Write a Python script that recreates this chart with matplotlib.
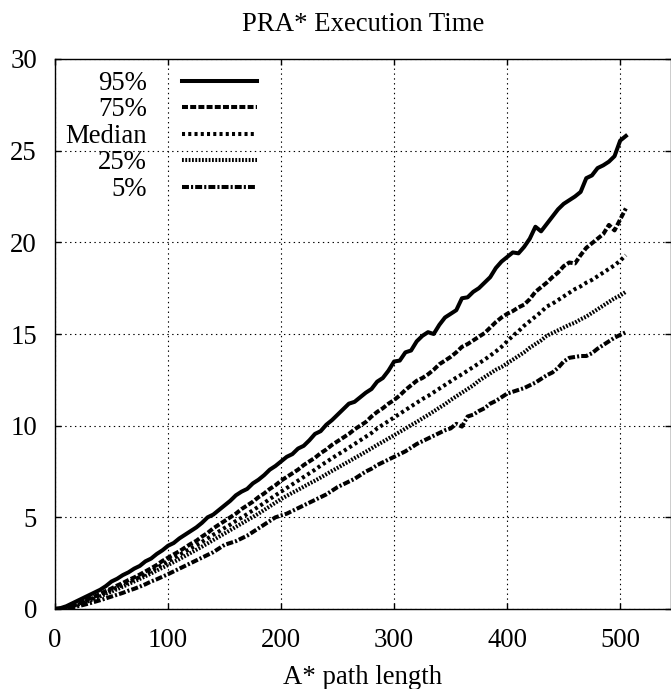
import matplotlib
matplotlib.use("Agg")
import matplotlib.pyplot as plt

plt.rcParams['font.family'] = ['Liberation Serif', 'DejaVu Serif']
plt.rcParams['lines.scale_dashes'] = False

# A* path length
path_len = list(range(0, 510, 5))

p95 = [0, 0.05, 0.15, 0.3, 0.45, 0.6, 0.75, 0.9, 1.05, 1.25,
       1.5, 1.65, 1.85, 2.0, 2.2, 2.35, 2.6, 2.75, 3.0, 3.2,
       3.45, 3.6, 3.85, 4.05, 4.25, 4.45, 4.7, 5.0, 5.15, 5.4,
       5.65, 5.9, 6.2, 6.4, 6.55, 6.85, 7.05, 7.3, 7.6, 7.8,
       8.05, 8.3, 8.45, 8.75, 8.9, 9.2, 9.55, 9.7, 10.05, 10.3,
       10.6, 10.9, 11.2, 11.3, 11.55, 11.8, 12.0, 12.4, 12.6, 13.0,
       13.5, 13.55, 14.0, 14.1, 14.6, 14.9, 15.1, 15.0, 15.5, 15.9,
       16.1, 16.3, 16.95, 17.0, 17.3, 17.5, 17.8, 18.1, 18.6, 18.95,
       19.2, 19.45, 19.4, 19.75, 20.2, 20.85, 20.6, 21.0, 21.4, 21.8,
       22.1, 22.3, 22.5, 22.75, 23.5, 23.65, 24.05, 24.2, 24.4, 24.7,
       25.55, 25.8]

p75 = [0, 0.02, 0.1, 0.2, 0.3, 0.42, 0.55, 0.68, 0.82, 0.98,
       1.12, 1.28, 1.42, 1.58, 1.72, 1.88, 2.05, 2.22, 2.4, 2.62,
       2.8, 2.98, 3.15, 3.35, 3.55, 3.72, 3.95, 4.15, 4.4, 4.6,
       4.8, 5.0, 5.2, 5.45, 5.65, 5.85, 6.1, 6.3, 6.55, 6.75,
       7.0, 7.2, 7.4, 7.6, 7.85, 8.05, 8.25, 8.5, 8.7, 8.95,
       9.15, 9.35, 9.55, 9.8, 10.0, 10.2, 10.5, 10.75, 10.95, 11.2,
       11.4, 11.65, 11.95, 12.2, 12.45, 12.6, 12.8, 13.05, 13.35, 13.55,
       13.75, 14.0, 14.3, 14.45, 14.65, 14.85, 15.05, 15.35, 15.65, 15.9,
       16.1, 16.25, 16.45, 16.6, 16.9, 17.3, 17.55, 17.8, 18.1, 18.35,
       18.7, 18.9, 18.85, 19.3, 19.7, 19.95, 20.2, 20.45, 20.95, 20.65,
       21.25, 21.85]

median = [0, 0.02, 0.08, 0.17, 0.27, 0.38, 0.5, 0.62, 0.76, 0.9,
          1.04, 1.18, 1.32, 1.46, 1.6, 1.75, 1.9, 2.07, 2.25, 2.42,
          2.6, 2.78, 2.95, 3.12, 3.3, 3.48, 3.66, 3.85, 4.05, 4.23,
          4.42, 4.6, 4.8, 4.98, 5.18, 5.38, 5.58, 5.78, 6.0, 6.2,
          6.4, 6.6, 6.8, 7.0, 7.2, 7.4, 7.6, 7.82, 8.02, 8.22,
          8.42, 8.6, 8.8, 9.0, 9.2, 9.4, 9.6, 9.85, 10.05, 10.25,
          10.45, 10.65, 10.85, 11.05, 11.25, 11.45, 11.62, 11.82, 12.02, 12.22,
          12.42, 12.62, 12.8, 13.0, 13.2, 13.4, 13.6, 13.82, 14.05, 14.3,
          14.6, 14.9, 15.15, 15.45, 15.7, 15.95, 16.2, 16.5, 16.65, 16.85,
          17.05, 17.25, 17.45, 17.6, 17.8, 17.95, 18.15, 18.35, 18.55, 18.75,
          19.0, 19.3]

p25 = [0, 0.01, 0.06, 0.14, 0.23, 0.33, 0.44, 0.56, 0.69, 0.82,
       0.95, 1.08, 1.22, 1.36, 1.5, 1.64, 1.79, 1.94, 2.1, 2.25,
       2.4, 2.56, 2.72, 2.89, 3.06, 3.23, 3.4, 3.58, 3.76, 3.94,
       4.12, 4.3, 4.48, 4.66, 4.84, 5.02, 5.2, 5.4, 5.6, 5.8,
       6.0, 6.17, 6.34, 6.5, 6.67, 6.84, 7.0, 7.17, 7.35, 7.53,
       7.7, 7.88, 8.05, 8.23, 8.4, 8.58, 8.76, 8.95, 9.12, 9.3,
       9.48, 9.66, 9.84, 10.03, 10.2, 10.4, 10.58, 10.78, 10.98, 11.17,
       11.4, 11.6, 11.8, 12.0, 12.2, 12.45, 12.65, 12.85, 13.05, 13.2,
       13.4, 13.6, 13.8, 14.0, 14.25, 14.45, 14.65, 14.9, 15.05, 15.2,
       15.35, 15.5, 15.62, 15.8, 15.95, 16.15, 16.35, 16.55, 16.75, 16.95,
       17.1, 17.3]

p5 = [0, 0.0, 0.03, 0.08, 0.15, 0.22, 0.3, 0.39, 0.48, 0.58,
      0.68, 0.78, 0.88, 1.0, 1.1, 1.22, 1.35, 1.5, 1.62, 1.76,
      1.9, 2.05, 2.2, 2.35, 2.5, 2.65, 2.8, 2.95, 3.1, 3.3,
      3.5, 3.6, 3.7, 3.85, 4.0, 4.2, 4.4, 4.6, 4.8, 5.0,
      5.1, 5.2, 5.35, 5.5, 5.65, 5.8, 5.95, 6.1, 6.25, 6.45,
      6.65, 6.8, 6.95, 7.1, 7.3, 7.5, 7.65, 7.85, 8.0, 8.15,
      8.3, 8.45, 8.6, 8.8, 9.0, 9.15, 9.3, 9.45, 9.6, 9.75,
      9.85, 10.1, 9.95, 10.5, 10.6, 10.8, 10.95, 11.2, 11.35, 11.55,
      11.75, 11.85, 11.95, 12.05, 12.2, 12.35, 12.55, 12.75, 12.9, 13.15,
      13.5, 13.7, 13.75, 13.8, 13.8, 13.95, 14.2, 14.4, 14.6, 14.8,
      14.95, 15.1]

fig = plt.figure(figsize=(6.71, 6.89), dpi=100)
ax = fig.add_axes([55 / 671, 80 / 689, 615.5 / 671, 550 / 689])

lw = 2.9
ax.plot(path_len, p95, color='black', lw=lw, label='95%')
ax.plot(path_len, p75, color='black', lw=lw, dashes=(4.3, 1.6), label='75%')
ax.plot(path_len, median, color='black', lw=lw, dashes=(2.2, 2.3), label='Median')
ax.plot(path_len, p25, color='black', lw=lw, dashes=(1.3, 1.1), label='25%')
ax.plot(path_len, p5, color='black', lw=lw, dashes=(5, 1.5, 1.5, 1.5), label='5%')

ax.set_xlim(0, 544.5)
ax.set_ylim(0, 30)
ax.set_xticks([0, 100, 200, 300, 400, 500])
ax.set_yticks([0, 5, 10, 15, 20, 25, 30])
ax.grid(True, color='black', lw=0.8, linestyle=(0, (1, 2.5)))
ax.tick_params(direction='in', length=4.5, width=1, top=True, right=True,
               labelsize=19.3)
ax.tick_params(axis='y', pad=13)
ax.tick_params(axis='x', pad=14)
for s in ax.spines.values():
    s.set_linewidth(1)

ax.set_title('PRA* Execution Time', fontsize=19.3, pad=20)
ax.set_xlabel('A* path length', fontsize=19.3, labelpad=8)

leg = ax.legend(loc='upper right', bbox_to_anchor=(257 / 671, 1 - 71 / 689),
                bbox_transform=fig.transFigure, frameon=False, fontsize=19.3,
                markerfirst=False, handlelength=2.8, handletextpad=1.3,
                labelspacing=0.055, borderpad=0, borderaxespad=0)

fig.savefig('out.png', dpi=100)
